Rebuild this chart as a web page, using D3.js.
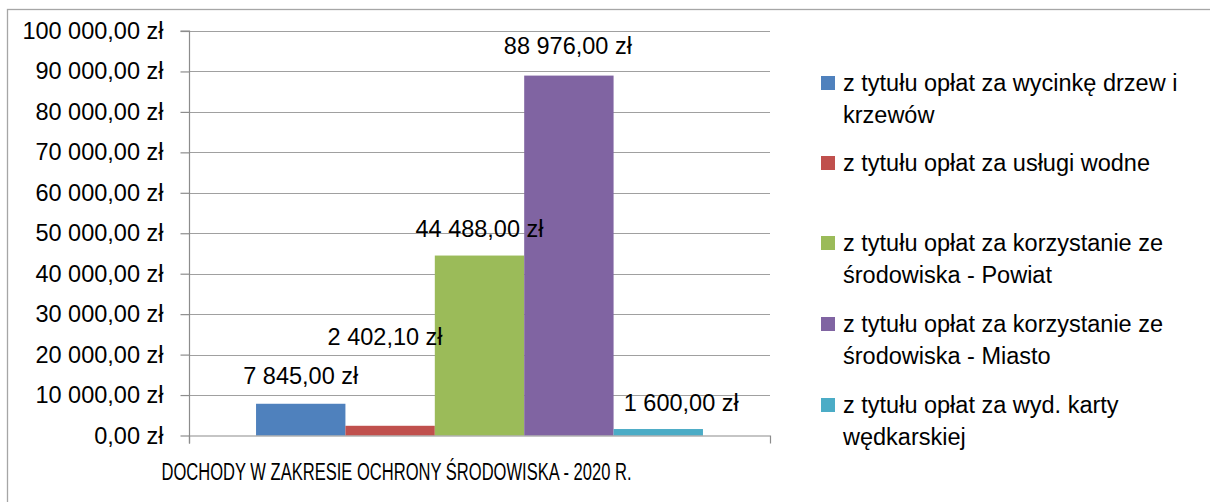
<!DOCTYPE html>
<html>
<head>
<meta charset="utf-8">
<script src="https://cdn.jsdelivr.net/npm/d3@7"></script>
<style>
  html, body { margin: 0; padding: 0; background: #fff; }
  svg { display: block; }
  text { font-family: "Liberation Sans", Arial, sans-serif; fill: #000; }
</style>
</head>
<body>
<svg id="chart" width="1210" height="502"></svg>
<script>
// ---- data ----
const category = "DOCHODY W ZAKRESIE OCHRONY ŚRODOWISKA - 2020 R.";
const seriesNames = [
  "z tytułu opłat za wycinkę drzew i krzewów",
  "z tytułu opłat za usługi wodne",
  "z tytułu opłat za korzystanie ze środowiska - Powiat",
  "z tytułu opłat za korzystanie ze środowiska - Miasto",
  "z tytułu opłat za wyd. karty wędkarskiej"
];
const seriesValues = [7845.00, 2402.10, 44488.00, 88976.00, 1600.00];
const legendLines = [
  ["z tytułu opłat za wycinkę drzew i", "krzewów"],
  ["z tytułu opłat za usługi wodne"],
  ["z tytułu opłat za korzystanie ze", "środowiska - Powiat"],
  ["z tytułu opłat za korzystanie ze", "środowiska - Miasto"],
  ["z tytułu opłat za wyd. karty", "wędkarskiej"]
];
const yTicks = [0, 10000, 20000, 30000, 40000, 50000, 60000, 70000, 80000, 90000, 100000];

// ---- styles / layout ----
const colors = ["#4f81bd", "#c0504d", "#9bbb59", "#8064a2", "#4bacc6"];
const labelNudge = [
  {dx: 0, dy: 0}, {dx: -5, dy: -61}, {dx: 0, dy: 1}, {dx: -1, dy: -2}, {dx: 23, dy: 2}
];
const legendRowY = [83, 163, 243, 324, 405];
const lineH = 32;
const fontSize = 23.5;

const svg = d3.select("#chart");
const plot = {left: 189, right: 770, top: 31, bottom: 435.5};

// outer border (only left/top visible)
svg.append("rect")
  .attr("x", 7.5).attr("y", 9.5).attr("width", 1300).attr("height", 600)
  .attr("fill", "none").attr("stroke", "#a6a6a6").attr("stroke-width", 1.3);

const loc = d3.formatLocale({decimal: ",", thousands: " ", grouping: [3], currency: ["", " zł"]});
const fmt = v => loc.format(",.2f")(v) + " zł";

const y = d3.scaleLinear().domain([0, 100000]).range([plot.bottom, plot.top]);
const x0 = d3.scaleBand().domain([category]).range([plot.left, plot.right]).padding(0);
const x1 = d3.scaleBand().domain(seriesNames).range([0, x0.bandwidth()])
  .paddingInner(0).paddingOuter(0.75);

// gridlines
svg.append("g").selectAll("line").data(yTicks.slice(1)).join("line")
  .attr("x1", plot.left).attr("x2", plot.right)
  .attr("y1", d => Math.round(y(d)) + 0.5).attr("y2", d => Math.round(y(d)) + 0.5)
  .attr("stroke", "#a0a0a0").attr("stroke-width", 1.2);

// y axis
const yAxis = d3.axisLeft(y).tickValues(yTicks).tickFormat(fmt).tickSize(9).tickPadding(17);
const gy = svg.append("g").attr("transform", `translate(${plot.left + 0.5},0)`).call(yAxis);
gy.select(".domain").attr("stroke", "#8c8c8c").attr("stroke-width", 1.2)
  .attr("d", `M-9,${plot.top}H0V${plot.bottom + 8}`);
gy.selectAll(".tick line").attr("stroke", "#8c8c8c").attr("stroke-width", 1.2);
gy.selectAll(".tick text").style("font-size", fontSize + "px").attr("fill", "#000")
  .style("font-family", "'Liberation Sans', Arial, sans-serif");

// bars
const gBars = svg.append("g").attr("transform", `translate(${x0(category)},0)`);
gBars.selectAll("rect").data(seriesValues).join("rect")
  .attr("x", (d, i) => x1(seriesNames[i]))
  .attr("width", x1.bandwidth())
  .attr("y", d => y(d))
  .attr("height", d => y(0) - y(d))
  .attr("fill", (d, i) => colors[i]);

// x axis
const xAxis = d3.axisBottom(x0).tickValues([]).tickSizeOuter(8);
const gx = svg.append("g").attr("transform", `translate(0,${plot.bottom})`).call(xAxis);
gx.select(".domain").attr("stroke", "#8c8c8c").attr("stroke-width", 1.2);

// category label
svg.append("text")
  .attr("x", x0(category) + x0.bandwidth() / 2 - 83)
  .attr("y", 472)
  .attr("text-anchor", "middle").attr("dominant-baseline", "central")
  .attr("textLength", 470).attr("lengthAdjust", "spacingAndGlyphs")
  .style("font-size", "23px")
  .text(category);

// data labels
gBars.selectAll("text.lbl").data(seriesValues).join("text")
  .attr("class", "lbl")
  .attr("x", (d, i) => x1(seriesNames[i]) + x1.bandwidth() / 2 + labelNudge[i].dx)
  .attr("y", (d, i) => y(d) - 28 + labelNudge[i].dy)
  .attr("text-anchor", "middle").attr("dominant-baseline", "central")
  .style("font-size", fontSize + "px")
  .text(d => fmt(d));

// legend
const gl = svg.append("g");
const items = gl.selectAll("g").data(seriesNames).join("g")
  .attr("transform", (d, i) => `translate(821,${legendRowY[i]})`);
items.append("rect").attr("x", 0).attr("y", -7).attr("width", 14).attr("height", 14)
  .attr("fill", (d, i) => colors[i]);
items.each(function(d, i) {
  d3.select(this).selectAll("text").data(legendLines[i]).join("text")
    .attr("x", 22).attr("y", (t, j) => j * lineH)
    .attr("dominant-baseline", "central")
    .style("font-size", fontSize + "px")
    .text(t => t);
});
</script>
</body>
</html>
